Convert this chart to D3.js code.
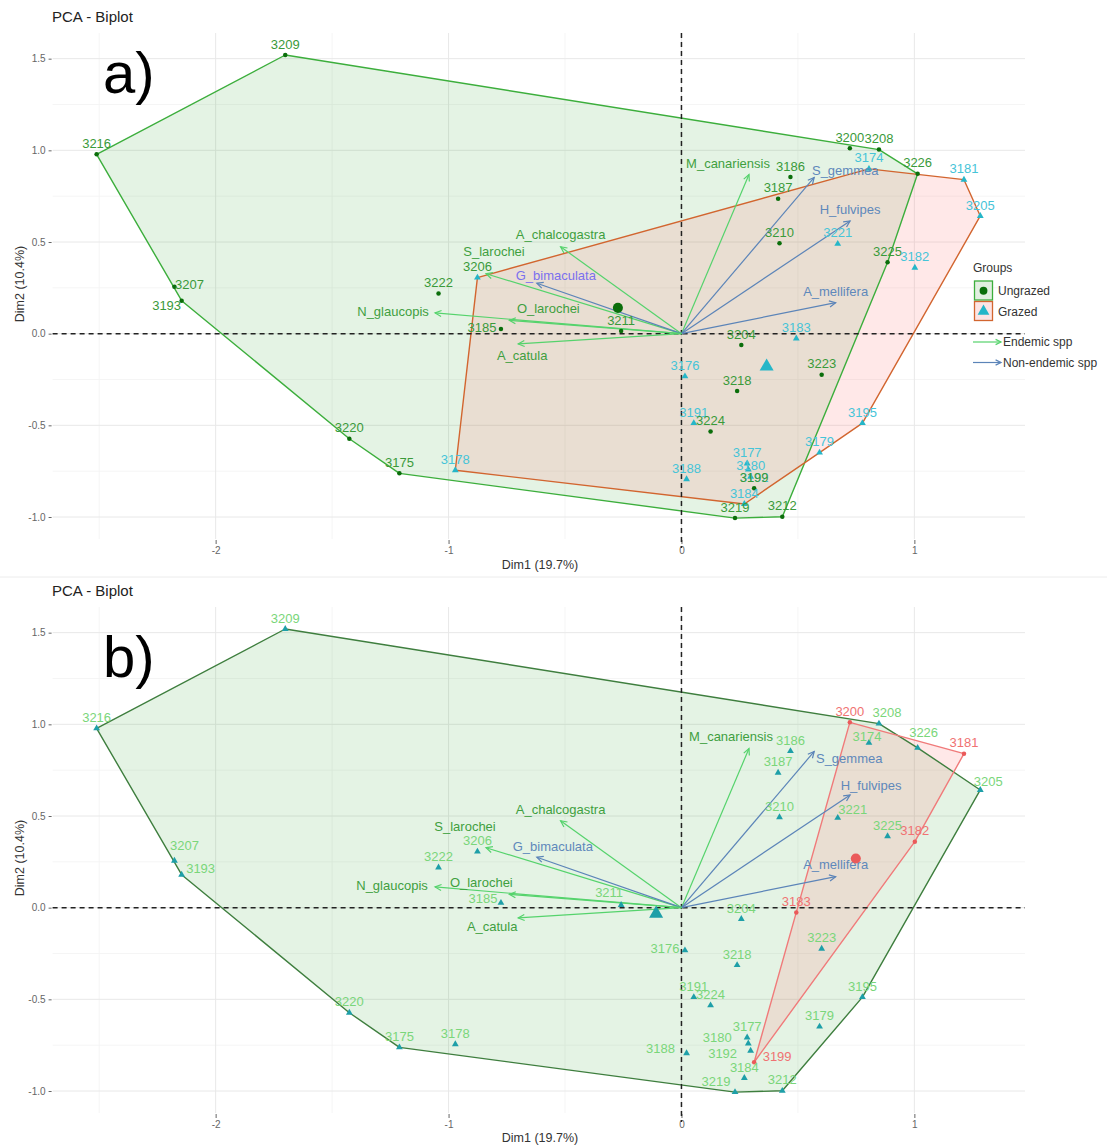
<!DOCTYPE html>
<html><head><meta charset="utf-8">
<script src="https://cdn.jsdelivr.net/npm/d3@7"></script>
<style>
body{margin:0;background:#fff}
svg{display:block}
text{font-family:"Liberation Sans",Arial,Helvetica,sans-serif}
</style>
</head><body>
<svg id="chart" width="1107" height="1147"></svg>
<script>
// ---------------- DATA ----------------
const sampleIds = ["3209","3216","3207","3193","3220","3175","3178","3222","3185","3206",
  "3211","3204","3183","3176","3218","3223","3191","3224","3195","3179",
  "3177","3180","3192","3188","3199","3184","3219","3212","3200","3208",
  "3174","3226","3181","3205","3186","3187","3210","3221","3225","3182"];
const dim1 = [-1.701,-2.511,-2.177,-2.146,-1.426,-1.211,-0.971,-1.043,-0.775,-0.876,
  -0.259,0.257,0.493,0.015,0.239,0.602,0.053,0.125,0.777,0.593,
  0.282,0.287,0.297,0.022,0.312,0.270,0.230,0.433,0.723,0.848,
  0.805,1.014,1.213,1.283,0.468,0.415,0.421,0.671,0.885,1.002];
const dim2 = [1.520,0.978,0.256,0.180,-0.573,-0.762,-0.745,0.219,0.026,0.306,
  0.015,-0.062,-0.026,-0.233,-0.313,-0.224,-0.488,-0.533,-0.488,-0.649,
  -0.708,-0.741,-0.780,-0.794,-0.843,-0.929,-1.006,-0.999,1.011,1.004,
  0.899,0.872,0.840,0.642,0.854,0.736,0.493,0.490,0.390,0.360];
const grazing = ["Ungrazed","Ungrazed","Ungrazed","Ungrazed","Ungrazed","Ungrazed","Grazed","Ungrazed","Ungrazed","Grazed",
  "Ungrazed","Ungrazed","Grazed","Grazed","Ungrazed","Ungrazed","Grazed","Ungrazed","Grazed","Grazed",
  "Grazed","Grazed","Grazed","Grazed","Ungrazed","Grazed","Ungrazed","Ungrazed","Ungrazed","Ungrazed",
  "Grazed","Ungrazed","Grazed","Grazed","Ungrazed","Ungrazed","Ungrazed","Grazed","Ungrazed","Grazed"];
const unprotectedIds = ["3200","3181","3182","3183","3199"];
const protection = sampleIds.map(id => unprotectedIds.includes(id) ? "Unprotected" : "Protected Natural Area");

const speciesNames = ["M_canariensis","S_gemmea","H_fulvipes","A_mellifera","A_chalcogastra",
  "S_larochei","G_bimaculata","N_glaucopis","O_larochei","A_catula"];
const speciesDim1 = [0.290,0.570,0.724,0.662,-0.519,-0.839,-0.621,-1.058,-0.739,-0.701];
const speciesDim2 = [0.868,0.852,0.615,0.169,0.474,0.327,0.275,0.113,0.073,-0.056];
const speciesType = ["Endemic spp","Non-endemic spp","Non-endemic spp","Non-endemic spp","Endemic spp",
  "Endemic spp","Non-endemic spp","Endemic spp","Endemic spp","Endemic spp"];

const xTicks = [-2,-1,0,1];
const yTicks = [-1,-0.5,0,0.5,1,1.5];
const xMinor = [-2.5,-1.5,-0.5,0.5];
const yMinor = [-0.75,-0.25,0.25,0.75,1.25];
const xTitle = "Dim1 (19.7%)";
const yTitle = "Dim2 (10.4%)";
const chartTitle = "PCA - Biplot";

// ---------------- LAYOUT / STYLE ----------------
const FONT = '"Liberation Sans", Arial, Helvetica, sans-serif';
const svg = d3.select("#chart");
const x = d3.scaleLinear().domain([-2.70,1.475]).range([52.6,1025]);
const y = d3.scaleLinear().domain([-1.12,1.64]).range([539,33]);

const arrowStyle = {
  "Endemic spp": {line:"#55d36c", label:"#3f9f3f"},
  "Non-endemic spp": {line:"#5b84b8", label:"#5e88bb"}
};

const panels = [
  {
    offset:0, letter:"a)", letterY:93, groupOf:grazing, xTitleY:569,
    groups:[
      {name:"Ungrazed", stroke:"#3cae3c", fill:"#32a032", fillOp:0.13, point:"#0b6e0b", shape:"circle", label:"#3a9a3a", keyFill:"#e2efe1"},
      {name:"Grazed", stroke:"#d2652f", fill:"#ff8080", fillOp:0.18, point:"#25b6c8", shape:"triangle", label:"#46c4d8", keyFill:"#fde4e4"}
    ],
    labelOffsets:{"3207":[15,-2],"3193":[-15,5],"3185":[-19,-2],"3192":[3.5,0.6],"3180":[2.5,-4]},
    labelColorOverride:{"3206":"#3a9a3a"},
    speciesLabelOffsets:{"M_canariensis":[-21,-11],"S_gemmea":[31,-7],"H_fulvipes":[0,-12],"A_mellifera":[0,-11],
      "A_chalcogastra":[0,-12],"S_larochei":[8,-22],"G_bimaculata":[19,-8],"N_glaucopis":[-42,-2],"O_larochei":[39,-12],"A_catula":[4,11]},
    speciesLabelColor:{"G_bimaculata":"#7a70ee"},
    legendFont:12, arrowLegend:true
  },
  {
    offset:574, letter:"b)", letterY:103, groupOf:protection, xTitleY:568,
    groups:[
      {name:"Protected Natural Area", stroke:"#3e7e3e", fill:"#32a032", fillOp:0.13, point:"#1e9fa8", shape:"triangle", label:"#7ad67a", keyFill:"#e2efe1"},
      {name:"Unprotected", stroke:"#f07a7a", fill:"#ff8080", fillOp:0.18, point:"#ea5a5a", shape:"circle", label:"#f07272", keyFill:"#fde4e4"}
    ],
    labelOffsets:{"3207":[10,-15],"3193":[19,-6],"3185":[-18,-5],"3211":[-12,-13],"3176":[-20,-2],"3180":[-31,-6],
      "3192":[-28,3],"3188":[-26,-5],"3199":[23,-6],"3219":[-19,-11],"3208":[8,-11],"3174":[-2,-6],"3226":[6,-15],
      "3205":[8,-9],"3221":[15,-8]},
    labelColorOverride:{},
    speciesLabelOffsets:{"M_canariensis":[-18,-12],"S_gemmea":[35,7],"H_fulvipes":[21,-10],"A_mellifera":[0,-12],
      "A_chalcogastra":[0,-11],"S_larochei":[-21,-21],"G_bimaculata":[16,-11],"N_glaucopis":[-43,-2],"O_larochei":[-28,-12],"A_catula":[-26,8]},
    speciesLabelColor:{},
    legendFont:9.5, arrowLegend:false
  }
];

function symbolPath(shape, size){
  return d3.symbol().type(shape==="triangle" ? d3.symbolTriangle : d3.symbolCircle).size(size)();
}

function arrowHead(g, x1, y1, x2, y2, color, len){
  const a = Math.atan2(y2-y1, x2-x1);
  const sp = Math.PI/7;
  const p1 = [x2 - len*Math.cos(a-sp), y2 - len*Math.sin(a-sp)];
  const p2 = [x2 - len*Math.cos(a+sp), y2 - len*Math.sin(a+sp)];
  g.append("path").attr("d", `M${p1[0]},${p1[1]}L${x2},${y2}L${p2[0]},${p2[1]}`)
    .attr("fill","none").attr("stroke",color).attr("stroke-width",1.2);
}

function drawPanel(cfg){
  const g = svg.append("g").attr("transform", `translate(0,${cfg.offset})`);
  const [X0,X1] = x.range();
  const [Y1,Y0] = y.range();

  // grid
  g.selectAll(null).data(xMinor).join("line")
    .attr("x1",d=>x(d)).attr("x2",d=>x(d)).attr("y1",Y0).attr("y2",Y1)
    .attr("stroke","#f2f2f2").attr("stroke-width",0.8);
  g.selectAll(null).data(yMinor).join("line")
    .attr("y1",d=>y(d)).attr("y2",d=>y(d)).attr("x1",X0).attr("x2",X1)
    .attr("stroke","#f2f2f2").attr("stroke-width",0.8);
  g.selectAll(null).data(xTicks).join("line")
    .attr("x1",d=>x(d)).attr("x2",d=>x(d)).attr("y1",Y0).attr("y2",Y1)
    .attr("stroke","#e8e8e8").attr("stroke-width",1);
  g.selectAll(null).data(yTicks).join("line")
    .attr("y1",d=>y(d)).attr("y2",d=>y(d)).attr("x1",X0).attr("x2",X1)
    .attr("stroke","#e8e8e8").attr("stroke-width",1);

  // axes
  const ax = g.append("g").attr("transform",`translate(0,${Y1+1})`)
    .call(d3.axisBottom(x).tickValues(xTicks).tickSize(4).tickPadding(3).tickFormat(d=>String(d)));
  ax.select(".domain").remove();
  ax.selectAll("line").attr("stroke","#666");
  ax.selectAll("text").attr("fill","#666").attr("font-size",10).attr("font-family",FONT);
  const ay = g.append("g").attr("transform",`translate(${X0-1},0)`)
    .call(d3.axisLeft(y).tickValues(yTicks).tickSize(3).tickPadding(3).tickFormat(d=>d.toFixed(1)));
  ay.select(".domain").remove();
  ay.selectAll("line").attr("stroke","#666");
  ay.selectAll("text").attr("fill","#666").attr("font-size",10).attr("font-family",FONT);

  // titles
  g.append("text").attr("x",52).attr("y",22).attr("font-size",15).attr("fill","#222").text(chartTitle);
  g.append("text").attr("x",540).attr("y",cfg.xTitleY).attr("text-anchor","middle").attr("font-size",12.5).attr("fill","#333").text(xTitle);
  g.append("text").attr("transform","translate(24,284) rotate(-90)").attr("text-anchor","middle")
    .attr("font-size",12.5).attr("fill","#333").text(yTitle);

  // hulls
  const hulls = cfg.groups.map(grp => {
    const pts = sampleIds.map((id,i)=>i).filter(i=>cfg.groupOf[i]===grp.name).map(i=>[x(dim1[i]), y(dim2[i])]);
    return "M"+d3.polygonHull(pts).map(p=>p.join(",")).join("L")+"Z";
  });
  cfg.groups.forEach((grp,k) => {
    g.append("path").attr("d",hulls[k])
      .attr("fill",grp.fill).attr("fill-opacity",grp.fillOp).attr("stroke","none");
  });
  cfg.groups.forEach((grp,k) => {
    g.append("path").attr("d",hulls[k])
      .attr("fill","none").attr("stroke",grp.stroke).attr("stroke-width",1.4).attr("stroke-linejoin","round");
  });

  // dashed zero lines
  g.append("line").attr("x1",X0).attr("x2",X1).attr("y1",y(0)).attr("y2",y(0))
    .attr("stroke","#222").attr("stroke-width",1.5).attr("stroke-dasharray","5,4");
  g.append("line").attr("x1",x(0)).attr("x2",x(0)).attr("y1",Y0).attr("y2",Y1+9)
    .attr("stroke","#222").attr("stroke-width",1.5).attr("stroke-dasharray","5,4");

  // species arrows
  speciesNames.forEach((nm,i)=>{
    const st = arrowStyle[speciesType[i]];
    const x1 = x(0), y1 = y(0), x2 = x(speciesDim1[i]), y2 = y(speciesDim2[i]);
    g.append("line").attr("x1",x1).attr("y1",y1).attr("x2",x2).attr("y2",y2)
      .attr("stroke",st.line).attr("stroke-width",1.2);
    arrowHead(g,x1,y1,x2,y2,st.line,7);
  });

  // points
  sampleIds.forEach((id,i)=>{
    const grp = cfg.groups.find(gg=>gg.name===cfg.groupOf[i]);
    g.append("path").attr("d",symbolPath(grp.shape, grp.shape==="triangle"?20:16))
      .attr("transform",`translate(${x(dim1[i])},${y(dim2[i])})`).attr("fill",grp.point);
  });

  // point labels
  sampleIds.forEach((id,i)=>{
    const grp = cfg.groups.find(gg=>gg.name===cfg.groupOf[i]);
    const off = cfg.labelOffsets[id] || [0,-11];
    g.append("text").attr("x",x(dim1[i])+off[0]).attr("y",y(dim2[i])+off[1]+4.6)
      .attr("text-anchor","middle").attr("font-size",13)
      .attr("fill",cfg.labelColorOverride[id] || grp.label).text(id);
  });

  // species labels
  speciesNames.forEach((nm,i)=>{
    const st = arrowStyle[speciesType[i]];
    const off = cfg.speciesLabelOffsets[nm] || [0,-11];
    g.append("text").attr("x",x(speciesDim1[i])+off[0]).attr("y",y(speciesDim2[i])+off[1]+4.6)
      .attr("text-anchor","middle").attr("font-size",13)
      .attr("fill",cfg.speciesLabelColor[nm] || st.label).text(nm);
  });

  // group means
  cfg.groups.forEach(grp=>{
    const idx = sampleIds.map((id,i)=>i).filter(i=>cfg.groupOf[i]===grp.name);
    const mx = d3.mean(idx,i=>dim1[i]), my = d3.mean(idx,i=>dim2[i]);
    g.append("path").attr("d",symbolPath(grp.shape, grp.shape==="triangle"?85:80))
      .attr("transform",`translate(${x(mx)},${y(my)})`).attr("fill",grp.point);
  });

  // panel letter
  g.append("text").attr("x",103).attr("y",cfg.letterY).attr("font-size",58).attr("fill","#000").text(cfg.letter);

  // legend
  const lg = g.append("g");
  lg.append("text").attr("x",973).attr("y",cfg.arrowLegend?272:840).attr("font-size",12).attr("fill","#333").text("Groups");
  const keyTop = cfg.arrowLegend ? 280.5 : 847;
  const keyH = 20.5;
  cfg.groups.forEach((grp,k)=>{
    const ky = keyTop + k*keyH;
    lg.append("rect").attr("x",974.5).attr("y",ky+0.5).attr("width",18).attr("height",keyH-1.5)
      .attr("fill",grp.keyFill).attr("stroke",grp.stroke).attr("stroke-width",1.3);
    lg.append("path").attr("d",symbolPath(grp.shape, grp.shape==="triangle"?60:48))
      .attr("transform",`translate(983.5,${ky+keyH/2})`).attr("fill",grp.point);
    lg.append("text").attr("x",998).attr("y",ky+keyH/2+cfg.legendFont*0.36).attr("font-size",cfg.legendFont)
      .attr("fill","#333").text(grp.name);
  });
  if(cfg.arrowLegend){
    Object.keys(arrowStyle).forEach((k,j)=>{
      const ly = 342 + j*20.5;
      lg.append("line").attr("x1",973).attr("x2",1001).attr("y1",ly).attr("y2",ly)
        .attr("stroke",arrowStyle[k].line).attr("stroke-width",1.2);
      arrowHead(lg,973,ly,1001,ly,arrowStyle[k].line,6);
      lg.append("text").attr("x",1003).attr("y",ly+4.3).attr("font-size",12).attr("fill","#333").text(k);
    });
  }
}

panels.forEach(drawPanel);
svg.append("line").attr("x1",0).attr("x2",1107).attr("y1",577).attr("y2",577).attr("stroke","#ececec").attr("stroke-width",1);
</script>
</body></html>
